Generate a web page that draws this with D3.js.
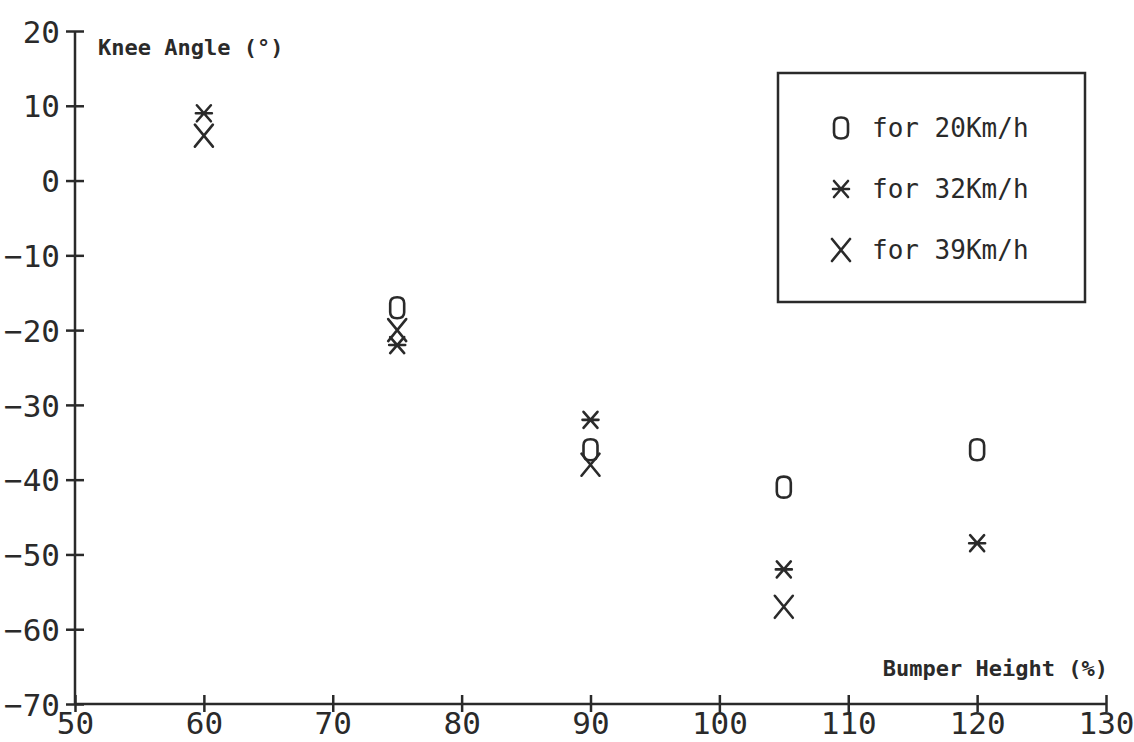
<!DOCTYPE html>
<html lang="en">
  <head>
    <meta charset="UTF-8" />
    <title>Knee Angle vs Bumper Height</title>
    <script src="https://cdnjs.cloudflare.com/ajax/libs/d3/7.8.5/d3.min.js"></script>
    <style>
      body {
        margin: 0;
        background: #fff;
      }
      text {
        font-family: "DejaVu Sans Mono", monospace;
        fill: #2a2a2a;
      }
      .axis path,
      .axis line {
        stroke: #2a2a2a;
        stroke-width: 2.5;
      }
      .axis text {
        font-size: 31px;
      }
      .mark {
        fill: none;
        stroke: #2a2a2a;
        stroke-width: 2.6;
        stroke-linecap: round;
      }
      .title {
        font-size: 22px;
        font-weight: bold;
      }
      .legend-text {
        font-size: 26px;
      }
    </style>
  </head>
  <body>
    <div id="chart"></div>
    <script>
      // Bumper height (%) and knee angle (deg) for each impact speed
      const heights = [60, 75, 90, 105, 120];
      const angle20 = [null, -17, -36, -41, -36];
      const angle32 = [9, -22, -32, -52, -48.5];
      const angle39 = [6, -20, -38, -57, null];

      const xTicks = [50, 60, 70, 80, 90, 100, 110, 120, 130];
      const yTicks = [20, 10, 0, -10, -20, -30, -40, -50, -60, -70];

      const series = [
        { key: "O", label: "for 20Km/h", values: angle20 },
        { key: "*", label: "for 32Km/h", values: angle32 },
        { key: "X", label: "for 39Km/h", values: angle39 },
      ];

      const width = 1134;
      const height = 742;

      const svg = d3
        .select("#chart")
        .append("svg")
        .attr("width", width)
        .attr("height", height);

      const xScale = d3.scaleLinear().domain([50, 130]).range([75, 1106]);
      const yScale = d3.scaleLinear().domain([-70, 20]).range([704, 31]);

      // marker glyphs drawn as paths
      function pathFor(key) {
        if (key === "X") return "M-9,-11L9,11M9,-11L-9,11";
        if (key === "*") return "M-8,0L8,0M-7,-8L7,8M7,-8L-7,8";
        // rounded "O"
        return "M-7,-4.5Q-7,-10.5 0,-10.5Q7,-10.5 7,-4.5L7,4.5Q7,10.5 0,10.5Q-7,10.5 -7,4.5Z";
      }

      // axes
      const fmt = (d) => (d < 0 ? "\u2212" + Math.abs(d) : d);

      const xAxis = svg
        .append("g")
        .attr("class", "axis")
        .attr("transform", `translate(0,${yScale(-70)})`)
        .call(
          d3.axisBottom(xScale).tickValues(xTicks).tickSize(0).tickPadding(8).tickFormat(fmt)
        );
      xAxis.select(".domain").attr("d", `M${xScale(50)},0H${xScale(130)}`);
      xAxis
        .selectAll(".tick")
        .append("line")
        .attr("y1", -9)
        .attr("y2", 8);

      const yAxis = svg
        .append("g")
        .attr("class", "axis")
        .attr("transform", `translate(${xScale(50)},0)`)
        .call(
          d3.axisLeft(yScale).tickValues(yTicks).tickSize(0).tickPadding(15).tickFormat(fmt)
        );
      yAxis.select(".domain").attr("d", `M0,${yScale(20)}V${yScale(-70)}`);
      yAxis
        .selectAll(".tick")
        .append("line")
        .attr("x1", -9)
        .attr("x2", 9);
      yAxis.selectAll(".tick text").attr("dy", "0.36em");

      // axis titles
      svg
        .append("text")
        .attr("class", "title")
        .attr("x", 98)
        .attr("y", 55)
        .text("Knee Angle (\u00b0)");

      svg
        .append("text")
        .attr("class", "title")
        .attr("x", 1108)
        .attr("y", 676)
        .attr("text-anchor", "end")
        .text("Bumper Height (%)");

      // points
      series.forEach((s) => {
        const pts = heights
          .map((h, i) => ({ x: h, y: s.values[i] }))
          .filter((d) => d.y !== null);
        svg
          .append("g")
          .selectAll("path")
          .data(pts)
          .enter()
          .append("path")
          .attr("class", "mark")
          .attr("transform", (d) => `translate(${xScale(d.x)},${yScale(d.y)})`)
          .attr("d", pathFor(s.key));
      });

      // legend
      const legend = svg.append("g").attr("transform", "translate(778,73)");
      legend
        .append("rect")
        .attr("width", 307)
        .attr("height", 229)
        .attr("fill", "none")
        .attr("stroke", "#2a2a2a")
        .attr("stroke-width", 2.5);

      const item = legend
        .selectAll(".item")
        .data(series)
        .enter()
        .append("g")
        .attr("class", "item")
        .attr("transform", (d, i) => `translate(0,${55 + i * 61})`);

      item
        .append("path")
        .attr("class", "mark")
        .attr("transform", "translate(63,0)")
        .attr("d", (d) => pathFor(d.key));

      item
        .append("text")
        .attr("class", "legend-text")
        .attr("x", 94)
        .attr("dy", "0.36em")
        .text((d) => d.label);
    </script>
  </body>
</html>
